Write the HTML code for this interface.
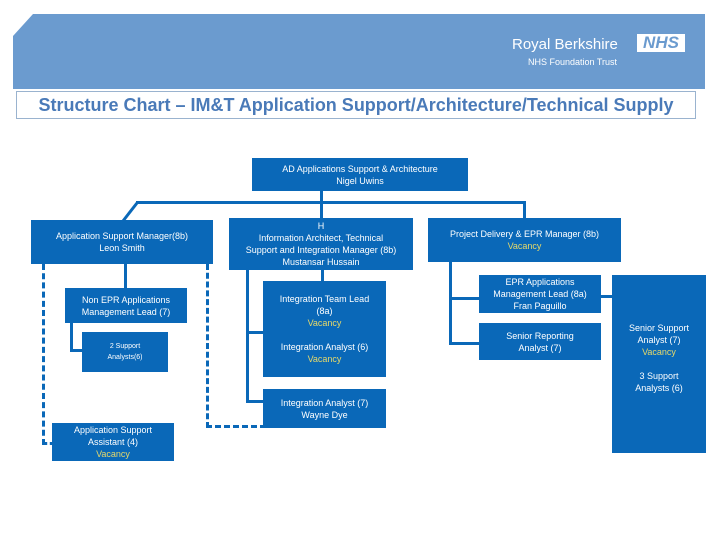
<!DOCTYPE html>
<html><head><style>
body{margin:0;width:720px;height:540px;background:#fff;position:relative;overflow:hidden;font-family:"Liberation Sans",sans-serif}
.b{position:absolute;background:#0a68b8;color:#fff;font-size:9px;line-height:12px;text-align:center;display:flex;flex-direction:column;justify-content:center;align-items:center}
.v{color:#e6d96a}
.l{position:absolute;background:#0a68b8}
.d{position:absolute;border-color:#0a68b8;border-style:dashed;border-width:0}
</style></head><body>
<svg style="position:absolute;left:0;top:0" width="720" height="540">
<polygon points="33,14 705,14 705,89 13,89 13,36" fill="#6b9bcf"/>
<line x1="123" y1="221" x2="137" y2="203" stroke="#0a68b8" stroke-width="3"/>
</svg>
<div style="position:absolute;left:512px;top:36px;color:#fff;font-size:15px">Royal Berkshire</div>
<div style="position:absolute;left:637px;top:34px;width:48px;height:18px;background:#fff;color:#6b9bcf;font-weight:bold;font-style:italic;font-size:17px;line-height:18px;text-align:center">NHS</div>
<div style="position:absolute;left:528px;top:57px;color:#fff;font-size:9px">NHS Foundation Trust</div>
<div style="position:absolute;left:16px;top:91px;width:680px;height:28px;border:1px solid #9ab3cf;box-sizing:border-box;text-align:center;color:#4a7ab8;font-weight:bold;font-size:18px;line-height:27px;white-space:nowrap">Structure Chart – IM&amp;T Application Support/Architecture/Technical Supply</div>

<div class="l" style="left:136px;top:201px;width:390px;height:3px"></div>
<div class="l" style="left:320px;top:191px;width:3px;height:28px"></div>
<div class="l" style="left:523px;top:201px;width:3px;height:18px"></div>
<div class="l" style="left:124px;top:264px;width:3px;height:25px"></div>
<div class="l" style="left:70px;top:323px;width:3px;height:28px"></div>
<div class="l" style="left:70px;top:349px;width:13px;height:3px"></div>
<div class="l" style="left:246px;top:270px;width:3px;height:133px"></div>
<div class="l" style="left:246px;top:331px;width:18px;height:3px"></div>
<div class="l" style="left:246px;top:400px;width:18px;height:3px"></div>
<div class="l" style="left:321px;top:270px;width:3px;height:12px"></div>
<div class="l" style="left:449px;top:262px;width:3px;height:83px"></div>
<div class="l" style="left:449px;top:297px;width:31px;height:3px"></div>
<div class="l" style="left:449px;top:342px;width:31px;height:3px"></div>
<div class="l" style="left:600px;top:295px;width:13px;height:3px"></div>
<div class="d" style="left:42px;top:264px;width:10px;height:178px;border-left-width:3px;border-bottom-width:3px"></div>
<div class="d" style="left:206px;top:264px;width:57px;height:161px;border-left-width:3px;border-bottom-width:3px"></div>

<div class="b" style="left:252px;top:158px;width:216px;height:33px">AD Applications Support &amp; Architecture<br>Nigel Uwins</div>
<div class="b" style="left:31px;top:220px;width:182px;height:44px">Application Support Manager(8b)<br>Leon Smith</div>
<div class="b" style="left:229px;top:218px;width:184px;height:52px">H<br>Information Architect, Technical<br>Support and Integration Manager (8b)<br>Mustansar Hussain</div>
<div class="b" style="left:428px;top:218px;width:193px;height:44px">Project Delivery &amp; EPR Manager (8b)<br><span class="v">Vacancy</span></div>
<div class="b" style="left:65px;top:288px;width:122px;height:35px">Non EPR Applications<br>Management Lead (7)</div>
<div class="b" style="left:82px;top:332px;width:86px;height:40px;font-size:7px;line-height:11px">2 Support<br>Analysts(6)</div>
<div class="b" style="left:263px;top:281px;width:123px;height:96px"><div>Integration Team Lead<br>(8a)<br><span class="v">Vacancy</span></div><div style="height:12px"></div><div>Integration Analyst (6)<br><span class="v">Vacancy</span></div></div>
<div class="b" style="left:263px;top:389px;width:123px;height:39px">Integration Analyst (7)<br>Wayne Dye</div>
<div class="b" style="left:52px;top:423px;width:122px;height:38px">Application Support<br>Assistant (4)<br><span class="v">Vacancy</span></div>
<div class="b" style="left:479px;top:275px;width:122px;height:38px">EPR Applications<br>Management Lead (8a)<br>Fran Paguillo</div>
<div class="b" style="left:479px;top:323px;width:122px;height:37px">Senior Reporting<br>Analyst (7)</div>
<div class="b" style="left:612px;top:275px;width:94px;height:178px;justify-content:flex-start"><div style="height:47px"></div>Senior Support<br>Analyst (7)<br><span class="v">Vacancy</span><div style="height:12px"></div>3 Support<br>Analysts (6)</div>
</body></html>
